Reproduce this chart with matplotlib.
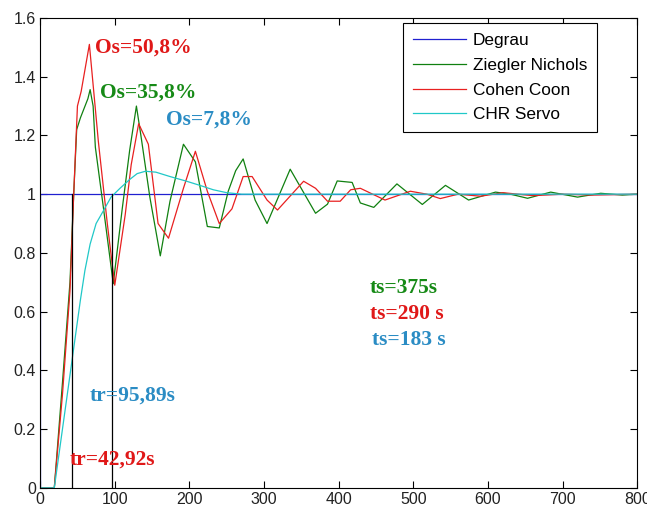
import matplotlib
matplotlib.use("Agg")
import matplotlib.pyplot as plt

# step input
degrau_t = [0, 0, 800]
degrau_y = [0, 1, 1]

# Ziegler Nichols response (vertices)
zn_t = [0, 19, 30, 40, 45, 49, 54, 64, 67, 71, 74, 85, 98, 110, 120, 129, 135, 147, 161,
        174, 192, 208, 224, 240, 252, 262, 272, 288, 304, 335, 369, 385, 398, 418, 429,
        447, 478, 512, 543, 574, 610, 630, 653, 684, 720, 751, 780, 800]
zn_y = [0, 0, 0.36, 0.70, 1.0, 1.22, 1.26, 1.325, 1.356, 1.30, 1.16, 0.95, 0.695, 0.95, 1.15,
        1.30, 1.20, 0.99, 0.79, 0.976, 1.17, 1.11, 0.89, 0.885, 1.01, 1.08, 1.12, 0.98, 0.90,
        1.085, 0.935, 0.966, 1.045, 1.04, 0.97, 0.955, 1.035, 0.965, 1.03, 0.98, 1.007, 1.0,
        0.986, 1.007, 0.99, 1.003, 0.997, 1.0]

# Cohen Coon response
cc_t = [0, 19, 30, 40, 45, 50, 55, 66, 78, 90, 100, 114, 122, 132, 145, 158, 172, 192, 208,
        224, 240, 257, 272, 284, 304, 318, 353, 369, 385, 402, 416, 429, 462, 496, 518, 536,
        560, 590, 620, 660, 700, 740, 800]
cc_y = [0, 0, 0.32, 0.67, 1.0, 1.30, 1.35, 1.51, 1.18, 0.90, 0.69, 0.93, 1.10, 1.24, 1.17,
        0.90, 0.85, 1.02, 1.146, 1.01, 0.90, 0.95, 1.06, 1.06, 0.98, 0.946, 1.044, 1.02, 0.976,
        0.976, 1.015, 1.02, 0.98, 1.01, 1.0, 0.985, 1.0, 0.993, 1.005, 0.995, 1.0, 0.997, 1.0]

# CHR Servo response
chr_t = [0, 19, 54, 60, 67, 75, 84, 95, 107, 120, 130, 141, 155, 174, 195, 214, 232, 250, 270, 800]
chr_y = [0, 0, 0.64, 0.74, 0.83, 0.90, 0.94, 0.99, 1.02, 1.05, 1.07, 1.078, 1.075, 1.06, 1.045,
         1.03, 1.015, 1.005, 1.0, 1.0]

tr_marks = [42.92, 95.89]

fig = plt.figure(figsize=(6.47, 5.13), dpi=100)
ax = fig.add_axes([0.062, 0.049, 0.923, 0.916])

lw = 0.9
ax.plot(degrau_t, degrau_y, color="#2020d0", lw=lw, label="Degrau")
ax.plot(zn_t, zn_y, color="#108010", lw=lw, label="Ziegler Nichols")
ax.plot(cc_t, cc_y, color="#e82020", lw=lw, label="Cohen Coon")
ax.plot(chr_t, chr_y, color="#20c8c8", lw=lw, label="CHR Servo")
for t in tr_marks:
    ax.plot([t, t], [0, 1], color="black", lw=lw)

ax.set_xlim(0, 800)
ax.set_ylim(0, 1.6)
ax.set_xticks(range(0, 801, 100))
ax.set_yticks([0, 0.2, 0.4, 0.6, 0.8, 1, 1.2, 1.4, 1.6])
ax.set_yticklabels(["0", "0.2", "0.4", "0.6", "0.8", "1", "1.2", "1.4", "1.6"])
ax.tick_params(direction="in", top=True, right=True, length=5, width=0.8,
               labelsize=11.5, labelcolor="#222222", pad=3)
for lab in ax.get_xticklabels() + ax.get_yticklabels():
    lab.set_family("Liberation Sans")
for s in ax.spines.values():
    s.set_linewidth(0.8)

serif = dict(family="Liberation Serif", weight="bold", fontsize=15.5, va="center")
red, green, blue = "#e01818", "#168a16", "#2a8cc4"
ax.text(74, 1.50, "Os=50,8%", color=red, **serif)
ax.text(80, 1.346, "Os=35,8%", color=green, **serif)
ax.text(168, 1.254, "Os=7,8%", color=blue, **serif)
ax.text(67, 0.315, "tr=95,89s", color=blue, **serif)
ax.text(40, 0.095, "tr=42,92s", color=red, **serif)
ax.text(442, 0.681, "ts=375s", color=green, **serif)
ax.text(442, 0.593, "ts=290 s", color=red, **serif)
ax.text(444, 0.505, "ts=183 s", color=blue, **serif)

leg = ax.legend(loc="upper right", bbox_to_anchor=(0.933, 0.989), borderaxespad=0,
                fancybox=False, edgecolor="black", framealpha=1,
                prop={"family": "Liberation Sans", "size": 12.4}, handlelength=3.1,
                handletextpad=0.4, labelspacing=0.56, borderpad=0.58)
leg.get_frame().set_linewidth(0.8)

fig.savefig("out.png", dpi=100)
